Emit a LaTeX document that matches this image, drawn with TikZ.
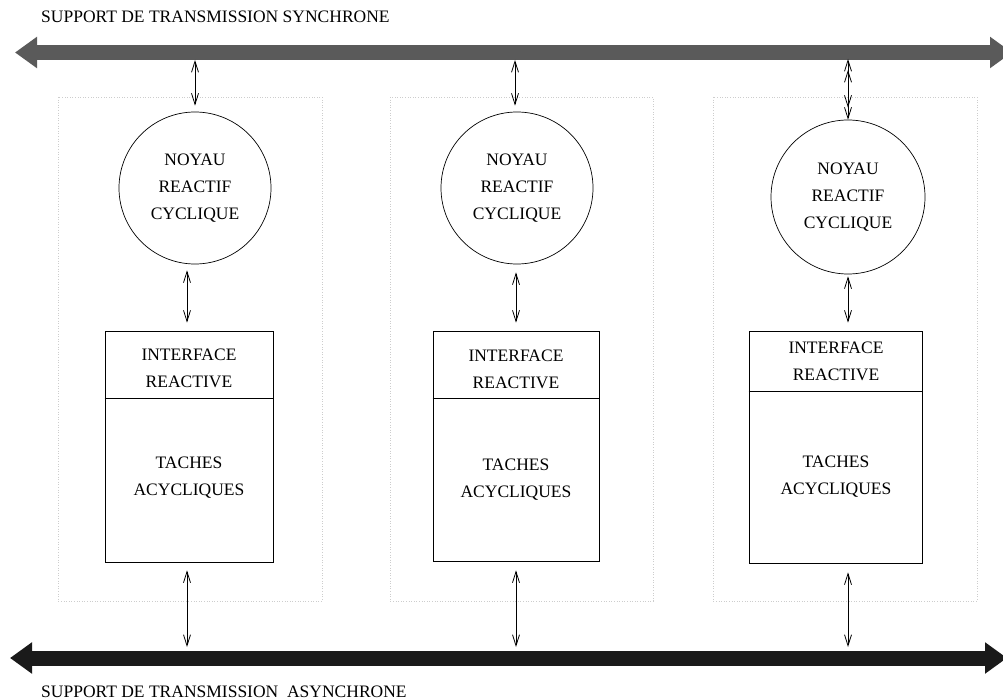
\documentclass[tikz,border=0pt]{standalone}
\usepackage{fontspec}
\setmainfont{Liberation Serif}
\usetikzlibrary{arrows.meta,calc}
\definecolor{busgray}{RGB}{90,90,90}
\definecolor{busblack}{RGB}{26,26,26}
\definecolor{dotgray}{RGB}{205,205,205}
\begin{document}
\begin{tikzpicture}[x=1pt,y=-1pt,
  lbl/.style={font=\fontsize{17.5}{27}\selectfont, align=center, inner sep=0pt},
  kernel/.style={draw, circle, line width=0.7pt, inner sep=0pt, lbl},
  taskbox/.style={draw, rectangle, line width=0.7pt, inner sep=0pt},
  grp/.style={draw=dotgray, dotted, line width=0.6pt},
  conn/.style={line width=0.8pt, {Straight Barb[length=11pt,width=7pt]}-{Straight Barb[length=11pt,width=7pt]}},
  bus/.style={line width=15pt, {Triangle[length=22pt,width=30pt]}-{Triangle[length=22pt,width=30pt]}}
]
\useasboundingbox (0,0) rectangle (1003,700);

% labels
\node[lbl, anchor=base west] (syn) at (41,23) {SUPPORT DE TRANSMISSION SYNCHRONE};
\node[lbl, anchor=base west] (asyn) at (41,697) {SUPPORT DE TRANSMISSION\ \ ASYNCHRONE};

% buses
\coordinate (sL) at (15,52.5);
\coordinate (sR) at (1012,52.5);
\coordinate (aL) at (10,658);
\coordinate (aR) at (1007,658);
\draw[bus, busgray] (sL) -- (sR);
\draw[bus, busblack] (aL) -- (aR);

% dotted groups
\draw[grp] (58,97) rectangle (322,601);
\draw[grp] (390,97) rectangle (653,601);
\draw[grp] (713,97) rectangle (977,601);

% kernels
\node[kernel, minimum size=152pt] (c1) at (195,188) {NOYAU\\REACTIF\\CYCLIQUE};
\node[kernel, minimum size=152pt] (c2) at (517,188) {NOYAU\\REACTIF\\CYCLIQUE};
\node[kernel, minimum size=154pt] (c3) at (848,197) {NOYAU\\REACTIF\\CYCLIQUE};

% task boxes
\node[taskbox, minimum width=168pt, minimum height=231pt] (r1) at (189,446.5) {};
\node[taskbox, minimum width=166pt, minimum height=230pt] (r2) at (516,446) {};
\node[taskbox, minimum width=173pt, minimum height=232pt] (r3) at (835.5,447) {};
\draw[line width=0.7pt] (r1.west |- 0,398) -- (r1.east |- 0,398);
\draw[line width=0.7pt] (r2.west |- 0,398) -- (r2.east |- 0,398);
\draw[line width=0.7pt] (r3.west |- 0,391) -- (r3.east |- 0,391);

\node[lbl] (i1) at (189,368) {INTERFACE\\REACTIVE};
\node[lbl] (t1) at (189,478) {TACHES\\ACYCLIQUES};
\node[lbl] (i2) at (516,369) {INTERFACE\\REACTIVE};
\node[lbl] (t2) at (516,480) {TACHES\\ACYCLIQUES};
\node[lbl] (i3) at (836,361) {INTERFACE\\REACTIVE};
\node[lbl] (t3) at (836,477) {TACHES\\ACYCLIQUES};

% connection points on buses
\coordinate (s1) at (195,60);
\coordinate (s2) at (515,60);
\coordinate (s3) at (848,59);
\coordinate (s3b) at (848,70);
\coordinate (a1) at (187,647);
\coordinate (a2) at (516,647);
\coordinate (a3) at (848,647);

% connectors
\draw[conn] (s1) -- ($(c1.north)+(0,-6)$);
\draw[conn] (s2) -- ($(c2.north)+(-2,-6)$);
\draw[conn] (s3) -- (c3.north);
\draw[conn] (s3b) -- ($(c3.north)+(0,-12)$);

\draw[conn] ($(c1.south)+(-8,6)$) -- ($(r1.north)+(-2,-8)$);
\draw[conn] ($(c2.south)+(-1,8)$) -- ($(r2.north)+(0,-8)$);
\draw[conn] ($(c3.south)+(0,2)$) -- ($(r3.north)+(12.5,-8)$);

\draw[conn] ($(r1.south)+(-2,8)$) -- (a1);
\draw[conn] ($(r2.south)+(0,9)$) -- (a2);
\draw[conn] ($(r3.south)+(12.5,9)$) -- (a3);
\end{tikzpicture}
\end{document}
